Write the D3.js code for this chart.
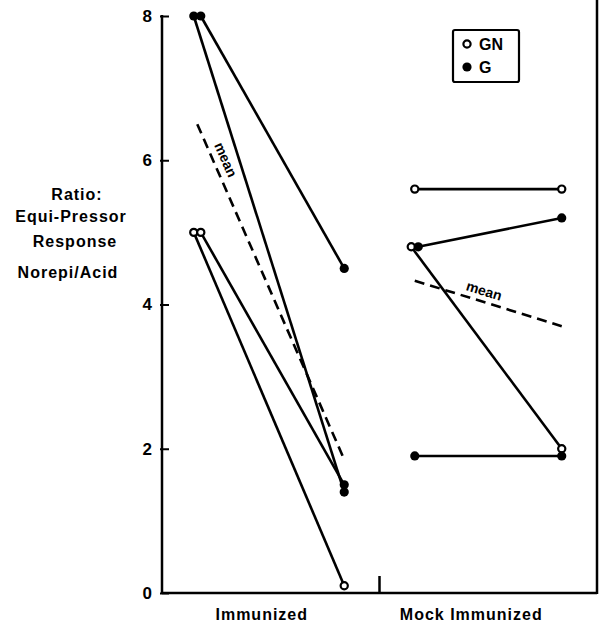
<!DOCTYPE html>
<html><head><meta charset="utf-8">
<script src="https://cdn.jsdelivr.net/npm/d3@7/dist/d3.min.js"></script>
<style>
body{margin:0;background:#fff;}
text{font-family:"Liberation Sans",Arial,sans-serif;font-weight:bold;fill:#000;}
</style></head>
<body><svg id="c" width="599" height="624"></svg>
<script>
// ---- data ----
const groups = ["Immunized", "Mock Immunized"];
const phases = ["pre", "post"];
const yTicks = [0, 2, 4, 6, 8];
const yLabelLines = ["Ratio:", "Equi-Pressor", "Response", "Norepi/Acid"];
// each subject: group, pre value, post value, marker type at pre / post
const subjGroup = ["Immunized","Immunized","Immunized","Immunized","Mock Immunized","Mock Immunized","Mock Immunized","Mock Immunized"];
const subjPre   = [8.0, 8.0, 5.0, 5.0, 4.8, 4.8, 5.6, 1.9];
const subjPost  = [1.4, 4.5, 0.1, 1.5, 2.0, 5.2, 5.6, 1.9];
const subjType  = ["G", "G", "GN", "GN", "GN", "G", "GN", "G"];
const subjPostType = ["G", "G", "GN", "G", "GN", "G", "GN", "G"];
const meanGroup = ["Immunized", "Mock Immunized"];
const meanPre   = [6.5, 4.33];
const meanPost  = [1.85, 3.7];
const legendKeys = ["GN", "G"];

// ---- scales ----
const svg = d3.select("#c");
const pLeft = 162, pRight = 597, pTop = 16, pBottom = 593;
const y = d3.scaleLinear().domain([0, 8]).range([pBottom, pTop]);
const xg = d3.scaleBand().domain(groups).range([pLeft, pRight]);
const xp = d3.scalePoint().domain(phases).range([0, xg.bandwidth()]).padding(0.24);
const X = (g, p) => xg(g) + xp(p);

// jitter duplicates at the pre position
const seen = {};
const subjects = subjPre.map((v, i) => {
  const key = subjGroup[i] + "|" + v;
  seen[key] = (seen[key] || 0) + 1;
  return {i, g: subjGroup[i], pre: v, post: subjPost[i], t: subjType[i], tp: subjPostType[i], k: seen[key]};
});
subjects.forEach(s => {
  const n = subjects.filter(o => o.g === s.g && o.pre === s.pre).length;
  s.dx = n > 1 ? (s.k === 1 ? -3.5 : 3.5) : 0;
});

// ---- frame ----
const frame = svg.append("g").attr("stroke", "#000").attr("stroke-width", 2.5).attr("fill", "none");
frame.append("line").attr("x1", pLeft).attr("x2", pLeft).attr("y1", y(8) - 1).attr("y2", pBottom + 1);
frame.append("line").attr("x1", pLeft).attr("x2", pRight).attr("y1", pBottom).attr("y2", pBottom);
frame.append("line").attr("x1", pRight).attr("x2", pRight).attr("y1", 0).attr("y2", pBottom + 1);
const midX = (xg(groups[0]) + xg.bandwidth() + xg(groups[1])) / 2;
frame.append("line").attr("x1", midX).attr("x2", midX).attr("y1", pBottom - 17).attr("y2", pBottom);

// y axis ticks
const yAxis = d3.axisLeft(y).tickValues(yTicks).tickSize(-7).tickPadding(10).tickFormat(d3.format("d"));
const ya = svg.append("g").attr("transform", `translate(${pLeft},0)`).call(yAxis);
ya.select(".domain").remove();
ya.selectAll(".tick line").attr("stroke", "#000").attr("stroke-width", 2).attr("x1", -2);
ya.selectAll(".tick text").style("font-size", "17px").style("font-family", "'Liberation Sans',Arial,sans-serif").style("font-weight", "bold");

// x labels
const xLabOff = [-9, -17];
svg.append("g").selectAll("text").data(groups).join("text")
  .attr("x", (d, i) => xg(d) + xg.bandwidth() / 2 + xLabOff[i])
  .attr("y", 620).attr("text-anchor", "middle")
  .style("font-size", "16px").style("letter-spacing", "1px").text(d => d);

// y title
svg.append("g").selectAll("text").data(yLabelLines).join("text")
  .attr("x", (d, i) => [77, 71, 75, 68][i])
  .attr("y", (d, i) => [200, 222, 247, 278][i])
  .attr("text-anchor", "middle")
  .style("font-size", "16px").style("letter-spacing", "1px").text(d => d);

// ---- subject lines ----
const lineG = svg.append("g").attr("stroke", "#000").attr("stroke-width", 2.6).attr("fill", "none");
lineG.selectAll("line").data(subjects).join("line")
  .attr("x1", d => X(d.g, "pre") + d.dx).attr("y1", d => y(d.pre))
  .attr("x2", d => X(d.g, "post")).attr("y2", d => y(d.post));

// mean lines
const means = meanGroup.map((g, i) => ({g, pre: meanPre[i], post: meanPost[i]}));
svg.append("g").selectAll("line").data(means).join("line")
  .attr("x1", d => X(d.g, "pre")).attr("y1", d => y(d.pre))
  .attr("x2", d => X(d.g, "post")).attr("y2", d => y(d.post))
  .attr("stroke", "#000").attr("stroke-width", 2.6).attr("stroke-dasharray", "10,6");
// mean labels
means.forEach((m, i) => {
  const x1 = X(m.g, "pre"), y1 = y(m.pre), x2 = X(m.g, "post"), y2 = y(m.post);
  const ang = Math.atan2(y2 - y1, x2 - x1) * 180 / Math.PI;
  const f = i === 0 ? 0.12 : 0.45;
  const off = i === 0 ? -7 : -6;
  const cx = x1 + (x2 - x1) * f, cy = y1 + (y2 - y1) * f;
  svg.append("text").attr("transform", `translate(${cx},${cy}) rotate(${ang}) translate(0,${off})`)
    .attr("text-anchor", "middle").style("font-size", "14px").text("mean");
});

// markers
function marker(sel, type) {
  sel.attr("r", type === "G" ? 4.6 : 3.6)
    .attr("fill", type === "G" ? "#000" : "#fff")
    .attr("stroke", "#000").attr("stroke-width", type === "G" ? 0 : 2.2);
}
const pts = [];
subjects.forEach(s => {
  pts.push({x: X(s.g, "pre") + s.dx, v: s.pre, t: s.t});
  pts.push({x: X(s.g, "post"), v: s.post, t: s.tp});
});
pts.sort((a, b) => (a.t === "G") - (b.t === "G"));
svg.append("g").selectAll("circle").data(pts).join("circle")
  .attr("cx", d => d.x).attr("cy", d => y(d.v))
  .each(function(d) { marker(d3.select(this), d.t); });

// legend
const lg = svg.append("g").attr("transform", "translate(453,30)");
lg.append("rect").attr("width", 66).attr("height", 52).attr("fill", "#fff")
  .attr("stroke", "#000").attr("stroke-width", 2.2).attr("rx", 2);
legendKeys.forEach((k, i) => {
  const c = lg.append("circle").attr("cx", 14).attr("cy", 14 + i * 23);
  marker(c, k);
  lg.append("text").attr("x", 26).attr("y", 20 + i * 23).style("font-size", "16px").text(k);
});
</script></body></html>
